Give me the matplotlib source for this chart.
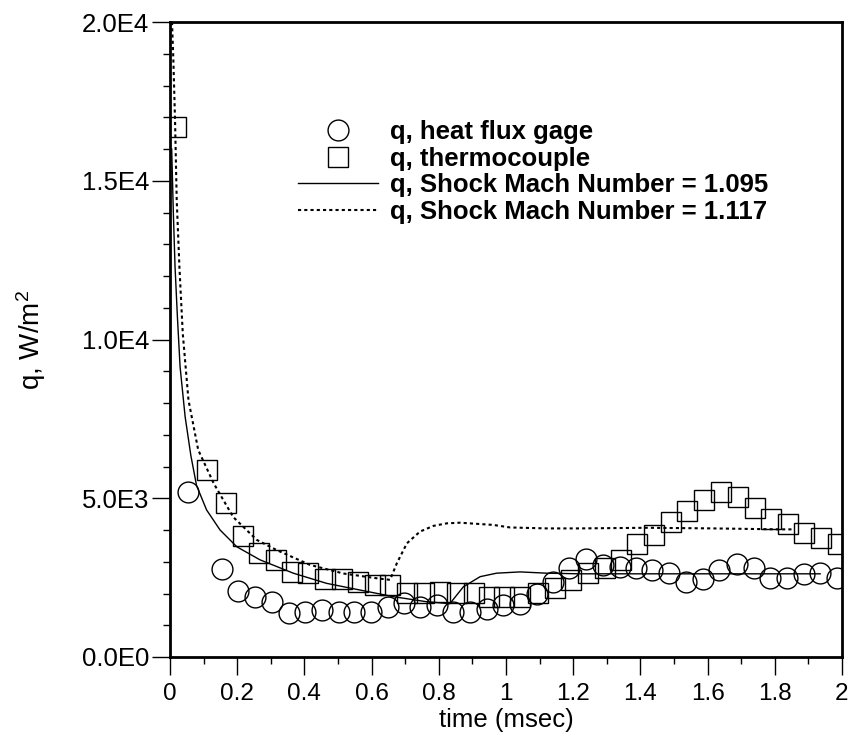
import numpy as np
from matplotlib import pyplot as plt
from matplotlib.ticker import MultipleLocator

plt.rcParams['font.family'] = ['Liberation Sans', 'DejaVu Sans']
plt.rcParams['mathtext.default'] = 'regular'

# heat flux gage (circles)
gage_t = [0.055, 0.154, 0.202, 0.253, 0.303, 0.353, 0.402, 0.452, 0.502, 0.549,
          0.599, 0.649, 0.695, 0.745, 0.795, 0.843, 0.892, 0.942, 0.992, 1.041,
          1.091, 1.141, 1.187, 1.237, 1.290, 1.339, 1.386, 1.436, 1.485, 1.535,
          1.585, 1.634, 1.687, 1.737, 1.786, 1.836, 1.886, 1.935, 1.985]
gage_q = [5190, 2760, 2080, 1900, 1740, 1380, 1410, 1480, 1410, 1410,
          1410, 1590, 1690, 1590, 1640, 1430, 1430, 1510, 1640, 1660,
          1970, 2370, 2790, 3100, 2890, 2830, 2800, 2730, 2660, 2370,
          2470, 2730, 2940, 2790, 2490, 2490, 2600, 2630, 2490]

# thermocouple (squares)
tc_t = [0.018, 0.109, 0.167, 0.216, 0.265, 0.314, 0.363, 0.412, 0.461, 0.511,
        0.560, 0.609, 0.656, 0.705, 0.755, 0.803, 0.853, 0.904, 0.950, 0.994,
        1.043, 1.095, 1.145, 1.194, 1.244, 1.294, 1.343, 1.391, 1.441, 1.490,
        1.540, 1.590, 1.641, 1.691, 1.741, 1.790, 1.840, 1.888, 1.937, 1.987]
tc_q = [16700, 5900, 4850, 3810, 3290, 3040, 2680, 2630, 2450, 2450,
        2370, 2260, 2260, 2030, 2030, 2050, 2030, 2030, 1900, 1880,
        1900, 2030, 2160, 2420, 2630, 2790, 3050, 3570, 3830, 4250,
        4610, 4960, 5210, 5050, 4700, 4350, 4190, 3910, 3750, 3570]

# Shock Mach Number = 1.095 (solid)
m1_t = [0.005, 0.010, 0.015, 0.022, 0.030, 0.045, 0.062, 0.079, 0.109, 0.149,
        0.199, 0.268, 0.367, 0.466, 0.565, 0.665, 0.764, 0.833, 0.873, 0.923,
        0.972, 1.042, 1.121, 1.220, 1.400, 1.600, 1.800, 1.935]
m1_q = [16000, 13970, 12290, 10720, 9140, 7570, 6350, 5400, 4630, 4000,
        3470, 3060, 2640, 2320, 2110, 1900, 1740, 1680, 2210, 2530,
        2640, 2680, 2640, 2620, 2620, 2620, 2620, 2620]

# Shock Mach Number = 1.117 (dotted)
m2_t = [0.006, 0.010, 0.015, 0.020, 0.028, 0.038, 0.055, 0.084, 0.130, 0.188,
        0.258, 0.317, 0.417, 0.516, 0.615, 0.655, 0.675, 0.705, 0.744, 0.784,
        0.824, 0.863, 0.962, 1.012, 1.121, 1.220, 1.419, 1.617, 1.815, 1.860]
m2_q = [20000, 18800, 16900, 14390, 12290, 10190, 8090, 6520, 5470, 4410,
        3690, 3370, 2900, 2630, 2480, 2430, 2950, 3580, 3950, 4130,
        4210, 4230, 4160, 4080, 4050, 4050, 4070, 4050, 4020, 4020]

x_ticks = [0, 0.2, 0.4, 0.6, 0.8, 1.0, 1.2, 1.4, 1.6, 1.8, 2.0]
x_labels = ['0', '0.2', '0.4', '0.6', '0.8', '1', '1.2', '1.4', '1.6', '1.8', '2']
y_ticks = [0, 5000, 10000, 15000, 20000]
y_labels = ['0.0E0', '5.0E3', '1.0E4', '1.5E4', '2.0E4']

fig = plt.figure(figsize=(8.48, 7.49), dpi=100)
ax = fig.add_axes([170 / 848, 1 - 657 / 749, 672 / 848, 635 / 749])

ax.plot(gage_t, gage_q, linestyle='none', marker='o', ms=15, mfc='none',
        mec='black', mew=1.0, label='q, heat flux gage')
ax.plot(tc_t, tc_q, linestyle='none', marker='s', ms=15, mfc='none',
        mec='black', mew=1.0, label='q, thermocouple')
ax.plot(m1_t, m1_q, color='black', lw=1.0, label='q, Shock Mach Number = 1.095')
ax.plot(m2_t, m2_q, color='black', lw=1.5, linestyle=(0, (1.5, 1.5)),
        label='q, Shock Mach Number = 1.117')

ax.set_xlim(0, 2)
ax.set_ylim(0, 20000)
ax.set_xticks(x_ticks)
ax.set_xticklabels(x_labels)
ax.set_yticks(y_ticks)
ax.set_yticklabels(y_labels)
ax.xaxis.set_minor_locator(MultipleLocator(0.1))
ax.yaxis.set_minor_locator(MultipleLocator(1000))
ax.tick_params(which='major', direction='out', length=13, width=1)
ax.tick_params(axis='x', which='major', pad=6, labelsize=17.5)
ax.tick_params(axis='y', which='major', pad=2, labelsize=18.5)
ax.tick_params(which='minor', direction='out', length=5, width=1)
for s in ax.spines.values():
    s.set_linewidth(2)

ax.set_xlabel('time (msec)', fontsize=18.5)
ax.set_ylabel('q, W/m$^2$', fontsize=20)
ax.xaxis.set_label_coords(0.5, -0.08)
ax.yaxis.set_label_coords(-0.182, 0.5)

leg = ax.legend(loc='upper left', bbox_to_anchor=(298 / 848, 1 - 120 / 749),
                bbox_transform=fig.transFigure, frameon=False, numpoints=1,
                handlelength=3.1, handletextpad=0.47, labelspacing=0.1,
                borderpad=0, borderaxespad=0,
                prop={'weight': 'bold', 'size': 18.5})

fig.savefig('out.png', dpi=100)
